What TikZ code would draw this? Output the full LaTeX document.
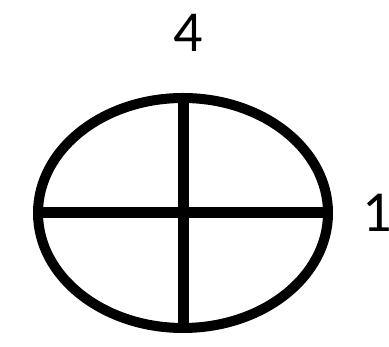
\documentclass[tikz,border=0pt]{standalone}
\usepackage{fontspec}
\setmainfont{Carlito}
\usepackage{tikz}
\usetikzlibrary{shapes.geometric, positioning}

\begin{document}
\begin{tikzpicture}[
  x=1pt, y=1pt,
  oval/.style={ellipse, draw=black, line width=10pt, inner sep=0pt,
               outer sep=0pt, minimum width=290pt, minimum height=230pt},
  bar/.style={draw=black, line width=11pt},
  num/.style={inner sep=0pt, font=\fontsize{58}{60}\selectfont}
]
\useasboundingbox (0,0) rectangle (389,347);

\node[oval] (wheel) at (183,134) {};

\draw[bar] (wheel.west) -- (wheel.east);
\draw[bar] (wheel.north) -- (wheel.south);

\node[num, above=46pt of wheel.north, xshift=5pt] (top) {4};
\node[num, right=34pt of wheel.east] (side) {1};

\end{tikzpicture}
\end{document}
